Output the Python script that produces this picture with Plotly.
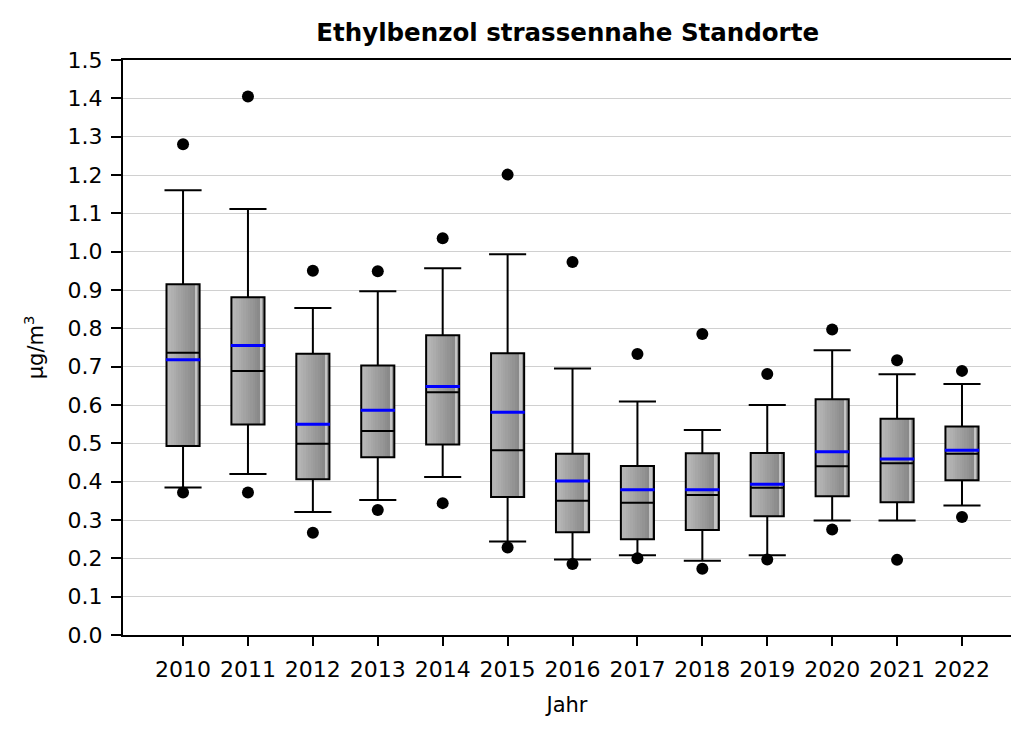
import plotly.graph_objects as go

years = [2010, 2011, 2012, 2013, 2014, 2015, 2016, 2017, 2018, 2019, 2020, 2021, 2022]
outlier_high = [1.280, 1.405, 0.950, 0.949, 1.035, 1.201, 0.973, 0.733, 0.785, 0.681, 0.797, 0.717, 0.689]
whisker_high = [1.160, 1.111, 0.853, 0.897, 0.957, 0.993, 0.695, 0.609, 0.535, 0.600, 0.743, 0.680, 0.655]
q3 = [0.915, 0.881, 0.734, 0.703, 0.782, 0.735, 0.473, 0.441, 0.474, 0.475, 0.615, 0.564, 0.544]
median = [0.736, 0.689, 0.499, 0.532, 0.633, 0.482, 0.350, 0.345, 0.365, 0.384, 0.440, 0.448, 0.473]
mean = [0.718, 0.755, 0.550, 0.586, 0.648, 0.581, 0.402, 0.379, 0.379, 0.393, 0.478, 0.459, 0.482]
q1 = [0.493, 0.549, 0.406, 0.464, 0.497, 0.360, 0.268, 0.250, 0.274, 0.310, 0.362, 0.346, 0.404]
whisker_low = [0.385, 0.420, 0.321, 0.352, 0.412, 0.244, 0.197, 0.208, 0.194, 0.208, 0.299, 0.299, 0.338]
outlier_low = [0.372, 0.372, 0.267, 0.326, 0.344, 0.228, 0.185, 0.200, 0.173, 0.197, 0.275, 0.196, 0.308]

FONT = "DejaVu Sans"
BOX_W = 0.51  # box width in data units

fig = go.Figure()

# gradient fill of the boxes, drawn as thin vertical bar strips
n_strips = 14
heights = [a - b for a, b in zip(q3, q1)]
for i in range(n_strips):
    t = i / (n_strips - 1)
    if i == n_strips - 2:
        c = 196
    elif i == n_strips - 1:
        c = 150
    else:
        c = int(round(184 - t * 54))
    fig.add_trace(go.Bar(
        x=years, y=heights, base=q1,
        width=BOX_W / n_strips,
        offset=-BOX_W / 2 + i * BOX_W / n_strips,
        marker=dict(color=f"rgb({c},{c},{c})", line=dict(width=0)),
        showlegend=False, hoverinfo="skip",
    ))

fig.add_trace(go.Box(
    x=years, q1=q1, median=median, q3=q3,
    lowerfence=whisker_low, upperfence=whisker_high,
    width=BOX_W, whiskerwidth=0,
    fillcolor="rgba(0,0,0,0)",
    line=dict(color="black", width=2),
    boxpoints=False, showlegend=False,
))

# whisker caps (slightly wider than the box, as in the reference)
fig.add_trace(go.Scatter(
    x=years + years, y=whisker_high + whisker_low, mode="markers",
    marker=dict(symbol="line-ew", size=26.5, line=dict(color="black", width=2)),
    showlegend=False, hoverinfo="skip",
))

# mean (blue line across the box)
fig.add_trace(go.Scatter(
    x=years, y=mean, mode="markers",
    marker=dict(symbol="line-ew", size=24.5, line=dict(color="#0000ff", width=3)),
    showlegend=False,
))

fig.add_trace(go.Scatter(
    x=years + years, y=outlier_high + outlier_low, mode="markers",
    marker=dict(symbol="circle", size=12, color="black"),
    showlegend=False,
))

fig.update_layout(
    width=1011, height=738,
    margin=dict(l=123, r=0, t=60, b=103),
    paper_bgcolor="white", plot_bgcolor="white",
    barmode="overlay", bargap=0,
    font=dict(family=FONT, color="black", size=20),
    title=dict(text="<b>Ethylbenzol strassennahe Standorte</b>",
               x=0.5615, xanchor="center", xref="container",
               y=1 - 32 / 738, yanchor="middle", yref="container",
               font=dict(family=FONT, size=24.5, color="black")),
    xaxis=dict(
        range=[2009.075, 2022.755],
        tickvals=years, ticktext=[str(y) for y in years],
        ticks="outside", ticklen=9, tickwidth=1.5, tickcolor="black",
        showline=True, linecolor="black", linewidth=2, mirror=True,
        showgrid=False, zeroline=False,
        tickfont=dict(family=FONT, size=22),
        ticklabelstandoff=5,
        title=dict(text="Jahr", standoff=16, font=dict(family=FONT, size=21)),
    ),
    yaxis=dict(
        range=[0, 1.5], dtick=0.1, tickformat=".1f",
        ticks="outside", ticklen=10, tickwidth=1.5, tickcolor="black",
        showline=True, linecolor="black", linewidth=2,
        showgrid=True, gridcolor="#d0d0d0", gridwidth=1,
        zeroline=False,
        tickfont=dict(family=FONT, size=22),
        ticklabelstandoff=4,
        title=dict(text="µg/m<sup>3</sup>", standoff=18, font=dict(family=FONT, size=21)),
    ),
)

fig.write_html("out.html")
